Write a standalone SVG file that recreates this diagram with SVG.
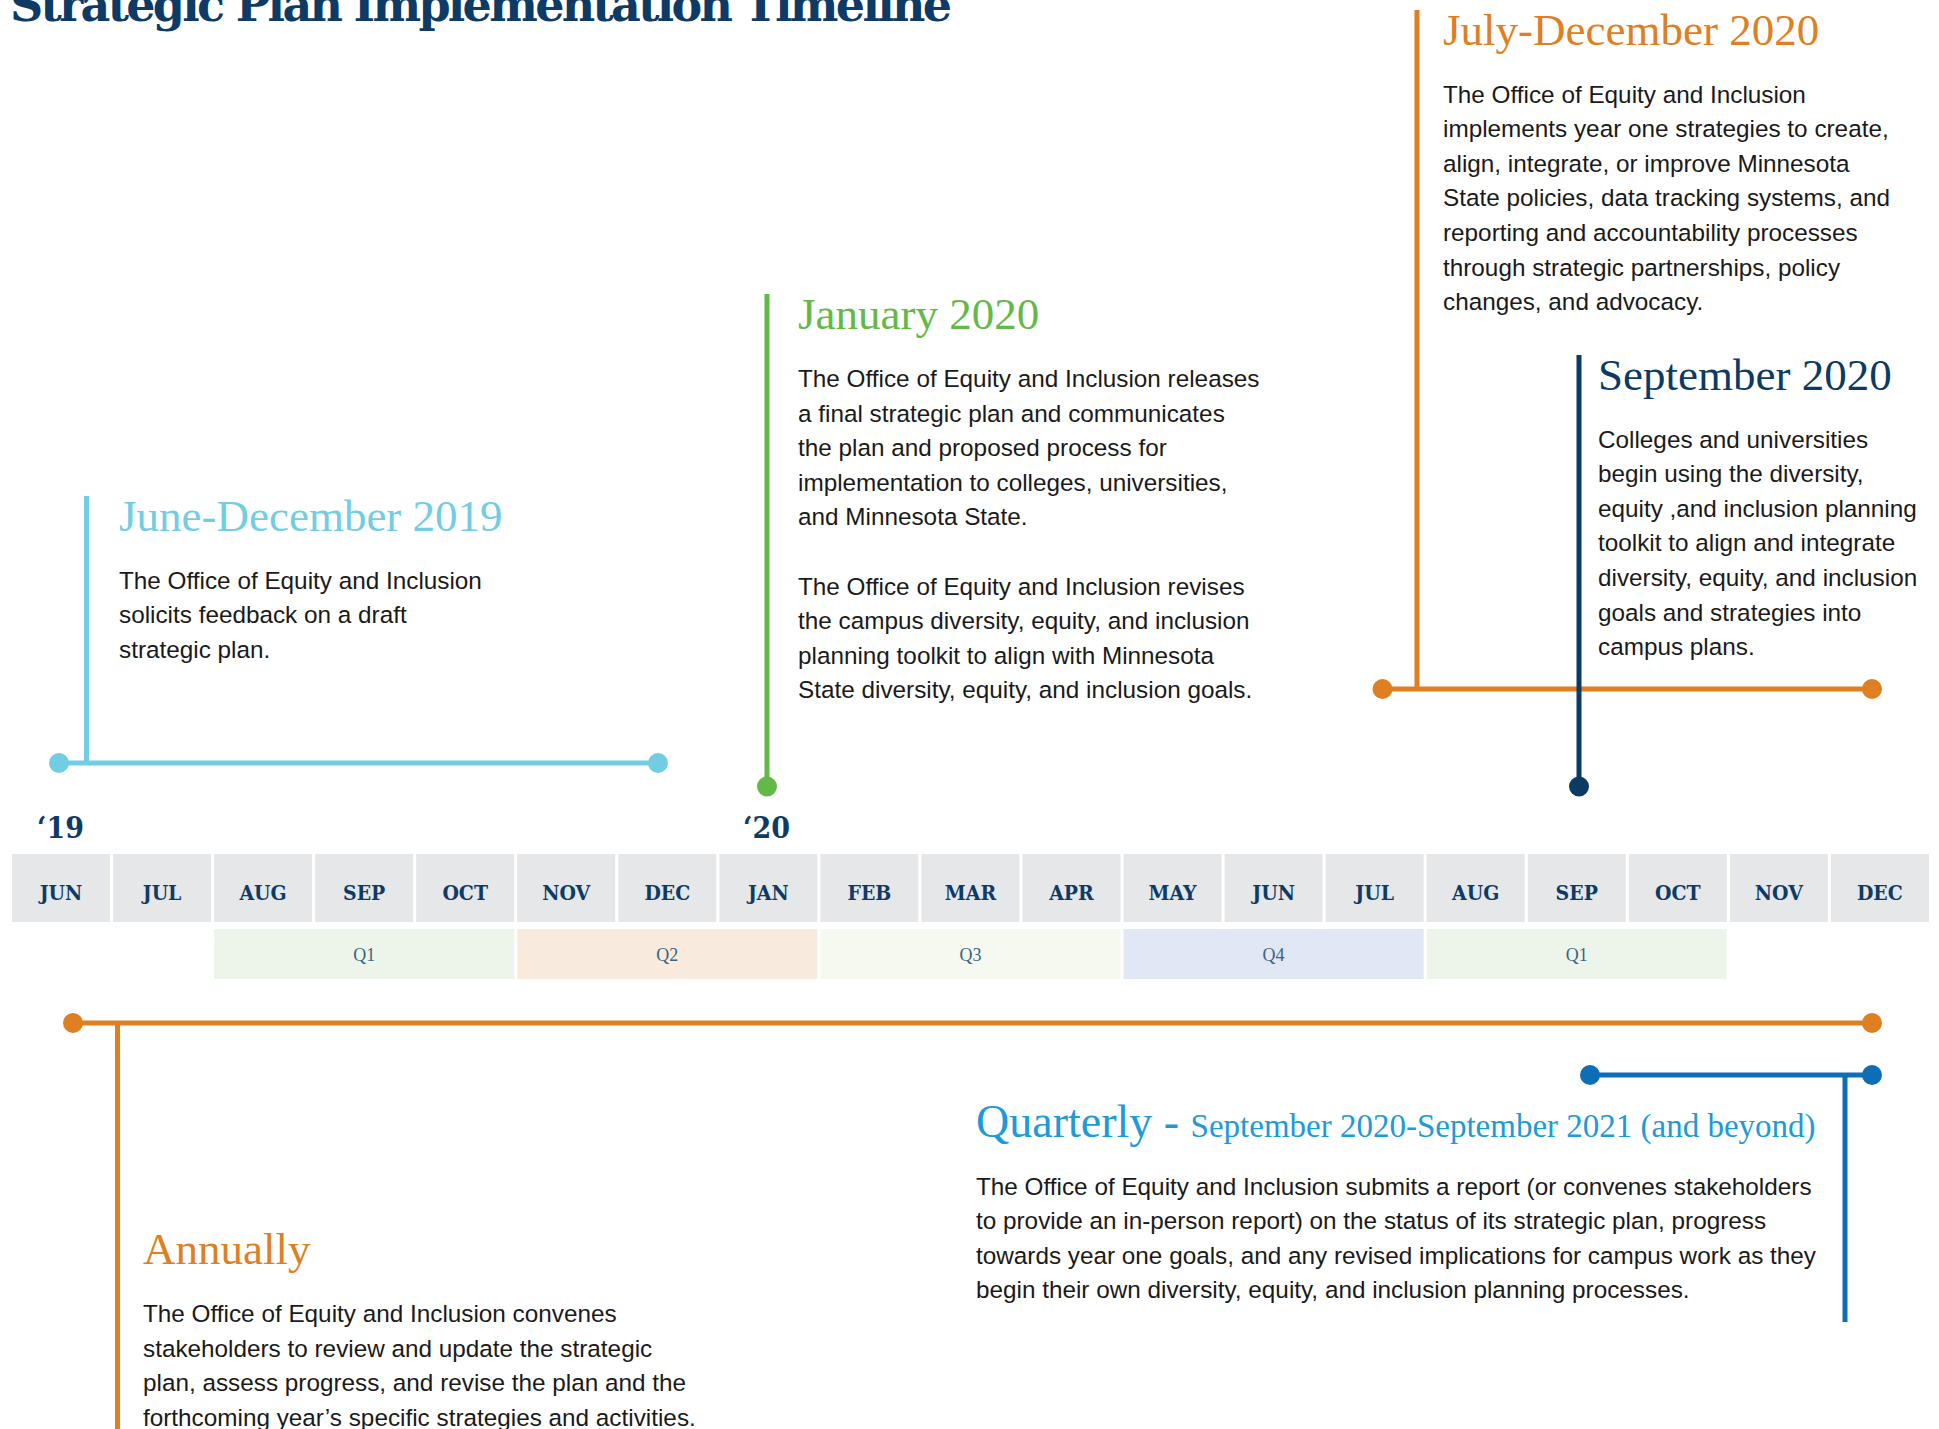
<svg xmlns="http://www.w3.org/2000/svg" width="1939" height="1429" viewBox="0 0 1939 1429">
<style>
.ttl{font-family:"DejaVu Serif","Liberation Serif",serif;font-weight:bold;fill:#0d3b66}
.mon{font-family:"DejaVu Serif Condensed","DejaVu Serif","Liberation Serif",serif;font-weight:bold;font-stretch:condensed;font-size:21px;fill:#0d3b66;text-anchor:middle}
.cell{fill:#e6e7e9}
.q{font-family:"Liberation Serif",serif;font-size:18px;fill:#3d6380;text-anchor:middle}
.h{font-family:"Liberation Serif",serif;font-size:45px}
.b{font-family:"Liberation Sans",Arial,sans-serif;font-size:24.3px;fill:#1a1a1a}
.ln{fill:none;stroke-width:5}
</style>
<text class="ttl" x="10" y="21" font-size="46" textLength="942">Strategic Plan Implementation Timeline</text>

<g id="axis">
<text class="ttl" x="37" y="838" font-size="30" font-stretch="condensed">‘19</text>
<text class="ttl" x="743" y="838" font-size="30" font-stretch="condensed">‘20</text>
<g id="months">
<rect class="cell" x="12" y="854" width="98" height="68"/><text class="mon" x="61" y="900">JUN</text>
<rect class="cell" x="113.05" y="854" width="98" height="68"/><text class="mon" x="162.05" y="900">JUL</text>
<rect class="cell" x="214.1" y="854" width="98" height="68"/><text class="mon" x="263.1" y="900">AUG</text>
<rect class="cell" x="315.15" y="854" width="98" height="68"/><text class="mon" x="364.15" y="900">SEP</text>
<rect class="cell" x="416.2" y="854" width="98" height="68"/><text class="mon" x="465.2" y="900">OCT</text>
<rect class="cell" x="517.25" y="854" width="98" height="68"/><text class="mon" x="566.25" y="900">NOV</text>
<rect class="cell" x="618.3" y="854" width="98" height="68"/><text class="mon" x="667.3" y="900">DEC</text>
<rect class="cell" x="719.35" y="854" width="98" height="68"/><text class="mon" x="768.35" y="900">JAN</text>
<rect class="cell" x="820.4" y="854" width="98" height="68"/><text class="mon" x="869.4" y="900">FEB</text>
<rect class="cell" x="921.45" y="854" width="98" height="68"/><text class="mon" x="970.45" y="900">MAR</text>
<rect class="cell" x="1022.5" y="854" width="98" height="68"/><text class="mon" x="1071.5" y="900">APR</text>
<rect class="cell" x="1123.55" y="854" width="98" height="68"/><text class="mon" x="1172.55" y="900">MAY</text>
<rect class="cell" x="1224.6" y="854" width="98" height="68"/><text class="mon" x="1273.6" y="900">JUN</text>
<rect class="cell" x="1325.65" y="854" width="98" height="68"/><text class="mon" x="1374.65" y="900">JUL</text>
<rect class="cell" x="1426.7" y="854" width="98" height="68"/><text class="mon" x="1475.7" y="900">AUG</text>
<rect class="cell" x="1527.75" y="854" width="98" height="68"/><text class="mon" x="1576.75" y="900">SEP</text>
<rect class="cell" x="1628.8" y="854" width="98" height="68"/><text class="mon" x="1677.8" y="900">OCT</text>
<rect class="cell" x="1729.85" y="854" width="98" height="68"/><text class="mon" x="1778.85" y="900">NOV</text>
<rect class="cell" x="1830.9" y="854" width="98" height="68"/><text class="mon" x="1879.9" y="900">DEC</text>
</g>
<g id="quarters">
<rect x="214.1" y="929" width="300.1" height="50" fill="#edf5ea"/><text class="q" x="364.15" y="961">Q1</text>
<rect x="517.25" y="929" width="300.1" height="50" fill="#f8ebde"/><text class="q" x="667.3" y="961">Q2</text>
<rect x="820.4" y="929" width="300.1" height="50" fill="#f6f9f0"/><text class="q" x="970.45" y="961">Q3</text>
<rect x="1123.55" y="929" width="300.1" height="50" fill="#e1e7f4"/><text class="q" x="1273.6" y="961">Q4</text>
<rect x="1426.7" y="929" width="300.1" height="50" fill="#edf5ea"/><text class="q" x="1576.75" y="961">Q1</text>
</g>
</g>

<g id="connectors">
<g stroke="#72cde3" fill="#72cde3">
<path class="ln" d="M86.5 496 V763 M59 763 H658"/>
<circle cx="59" cy="763" r="10" stroke="none"/><circle cx="658" cy="763" r="10" stroke="none"/>
</g>
<g stroke="#63b947" fill="#63b947">
<path class="ln" d="M767 294 V786"/>
<circle cx="767" cy="786.5" r="10" stroke="none"/>
</g>
<g stroke="#df7f22" fill="#df7f22">
<path class="ln" d="M1417 10 V689 M1382.5 689 H1872"/>
<circle cx="1382.5" cy="689" r="10" stroke="none"/><circle cx="1872" cy="689" r="10" stroke="none"/>
</g>
<g stroke="#0b3b63" fill="#0b3b63">
<path class="ln" d="M1579 355 V786"/>
<circle cx="1579" cy="786.5" r="10" stroke="none"/>
</g>
<g stroke="#df7f22" fill="#df7f22">
<path class="ln" d="M117.5 1023 V1429 M73 1023 H1872"/>
<circle cx="73" cy="1023" r="10" stroke="none"/><circle cx="1872" cy="1023" r="10" stroke="none"/>
</g>
<g stroke="#0d6eb7" fill="#0d6eb7">
<path class="ln" d="M1845 1075 V1322 M1590 1075 H1872"/>
<circle cx="1590" cy="1075" r="10" stroke="none"/><circle cx="1872" cy="1075" r="10" stroke="none"/>
</g>
</g>

<g id="node-june-dec-2019">
<text class="h" x="119" y="530.5" fill="#72cde3">June-December 2019</text>
<text class="b" x="119" y="588.6">The Office of Equity and Inclusion</text>
<text class="b" x="119" y="623.2">solicits feedback on a draft</text>
<text class="b" x="119" y="657.8">strategic plan.</text>
</g>

<g id="node-january-2020">
<text class="h" x="798" y="329" fill="#63b947">January 2020</text>
<text class="b" x="798" y="387">The Office of Equity and Inclusion releases</text>
<text class="b" x="798" y="421.6">a final strategic plan and communicates</text>
<text class="b" x="798" y="456.2">the plan and proposed process for</text>
<text class="b" x="798" y="490.8">implementation to colleges, universities,</text>
<text class="b" x="798" y="525.4">and Minnesota State.</text>
<text class="b" x="798" y="594.6">The Office of Equity and Inclusion revises</text>
<text class="b" x="798" y="629.2">the campus diversity, equity, and inclusion</text>
<text class="b" x="798" y="663.8">planning toolkit to align with Minnesota</text>
<text class="b" x="798" y="698.4">State diversity, equity, and inclusion goals.</text>
</g>

<g id="node-july-dec-2020">
<text class="h" x="1443" y="44.5" fill="#df7f22">July-December 2020</text>
<text class="b" x="1443" y="102.6">The Office of Equity and Inclusion</text>
<text class="b" x="1443" y="137.2">implements year one strategies to create,</text>
<text class="b" x="1443" y="171.8">align, integrate, or improve Minnesota</text>
<text class="b" x="1443" y="206.4">State policies, data tracking systems, and</text>
<text class="b" x="1443" y="241">reporting and accountability processes</text>
<text class="b" x="1443" y="275.6">through strategic partnerships, policy</text>
<text class="b" x="1443" y="310.2">changes, and advocacy.</text>
</g>

<g id="node-september-2020">
<text class="h" x="1598" y="389.5" fill="#0b3b63">September 2020</text>
<text class="b" x="1598" y="447.6">Colleges and universities</text>
<text class="b" x="1598" y="482.2">begin using the diversity,</text>
<text class="b" x="1598" y="516.8">equity ,and inclusion planning</text>
<text class="b" x="1598" y="551.4">toolkit to align and integrate</text>
<text class="b" x="1598" y="586">diversity, equity, and inclusion</text>
<text class="b" x="1598" y="620.6">goals and strategies into</text>
<text class="b" x="1598" y="655.2">campus plans.</text>
</g>

<g id="node-quarterly">
<text x="976" y="1136.5" fill="#1d9ad8" font-family="Liberation Serif, serif"><tspan font-size="46">Quarterly - </tspan><tspan font-size="33">September 2020-September 2021 (and beyond)</tspan></text>
<text class="b" x="976" y="1194.6">The Office of Equity and Inclusion submits a report (or convenes stakeholders</text>
<text class="b" x="976" y="1229.2">to provide an in-person report) on the status of its strategic plan, progress</text>
<text class="b" x="976" y="1263.8">towards year one goals, and any revised implications for campus work as they</text>
<text class="b" x="976" y="1298.4">begin their own diversity, equity, and inclusion planning processes.</text>
</g>

<g id="node-annually">
<text class="h" x="143" y="1264" fill="#df7f22">Annually</text>
<text class="b" x="143" y="1322">The Office of Equity and Inclusion convenes</text>
<text class="b" x="143" y="1356.6">stakeholders to review and update the strategic</text>
<text class="b" x="143" y="1391.2">plan, assess progress, and revise the plan and the</text>
<text class="b" x="143" y="1425.8">forthcoming year’s specific strategies and activities.</text>
</g>
</svg>
